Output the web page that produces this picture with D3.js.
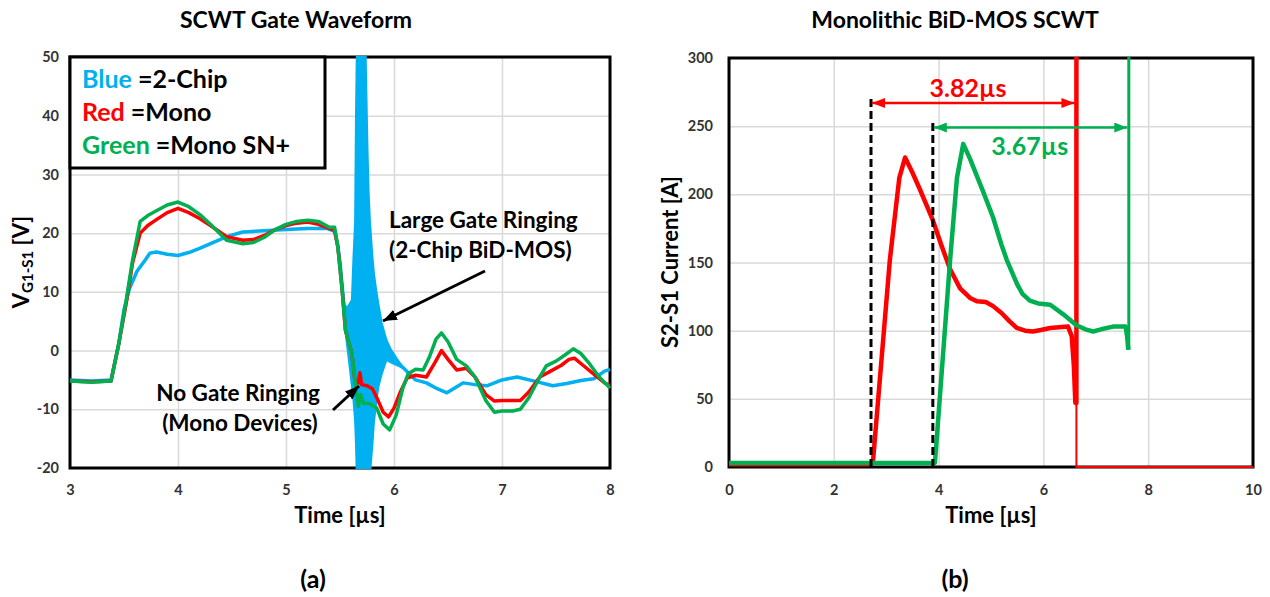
<!DOCTYPE html>
<html>
<head>
<meta charset="utf-8">
<script src="https://cdn.jsdelivr.net/npm/d3@7"></script>
<style>
body { margin: 0; background: #fff; }
text { font-family: Lato, "Open Sans", sans-serif; font-weight: bold; }
</style>
</head>
<body>
<svg width="1270" height="597"></svg>
<script>
// (a) gate waveform, time [us] / V_G1-S1 [V]
var gateTicksX = [3, 4, 5, 6, 7, 8];
var gateTicksY = [-20, -10, 0, 10, 20, 30, 40, 50];

var blueT = [3.0, 3.2, 3.38, 3.45, 3.5, 3.55, 3.62, 3.7, 3.74, 3.8, 3.9, 4.0, 4.1, 4.2, 4.35, 4.45, 4.6, 4.8, 5.0, 5.2, 5.38, 5.45, 5.48, 5.5, 5.55,
             6.09, 6.2, 6.3, 6.4, 6.49, 6.57, 6.64, 6.75, 6.86, 7.0, 7.14, 7.3, 7.47, 7.6, 7.73, 7.85, 7.95, 8.0];
var blueV = [-5, -5.2, -5, 1, 7, 10.5, 13.5, 15.5, 16.6, 16.8, 16.4, 16.2, 16.7, 17.4, 18.6, 19.4, 20.2, 20.4, 20.6, 20.8, 20.8, 20.3, 17.7, 15, 5,
             -3, -5, -5.5, -6.5, -7.2, -6.3, -5.5, -5.8, -6, -5, -4.5, -5.2, -6, -5.6, -5.1, -4.8, -3.5, -3.2];

// ringing band of the 2-chip trace (upper / lower edge)
var ringT  = [5.50, 5.53, 5.546, 5.575, 5.61, 5.625, 5.64, 5.648, 5.655, 5.67, 5.73, 5.745, 5.755, 5.765, 5.778, 5.80, 5.815, 5.835, 5.855, 5.886, 5.93, 5.97, 6.03, 6.09];
var ringHi = [15.5, 9, 7.5, 7.5, 8.6, 16, 22, 40, 50, 58, 58, 43, 34, 27, 21.7, 16, 13, 10.3, 8, 4.7, 1.8, 0.2, -1.5, -3];
var ringLo = [14.5, 7, 4, -0.5, -6, -8.5, -12, -16, -21, -21, -21, -21, -21, -21, -21, -16, -12, -9, -6.2, -4, -1.6, -2, -2.5, -3];

var redT = [3.0, 3.2, 3.38, 3.45, 3.52, 3.58, 3.65, 3.72, 3.8, 3.9, 4.0, 4.1, 4.2, 4.3, 4.45, 4.6, 4.7, 4.8, 4.9, 5.0, 5.1, 5.2, 5.3, 5.4, 5.45,
            5.48, 5.52, 5.55, 5.61, 5.64, 5.67, 5.685, 5.7, 5.75, 5.8, 5.84, 5.9, 5.95, 6.0, 6.06, 6.12, 6.2, 6.3, 6.38, 6.44, 6.5, 6.58, 6.67,
            6.75, 6.85, 6.93, 7.0, 7.1, 7.17, 7.25, 7.35, 7.45, 7.55, 7.62, 7.67, 7.75, 7.85, 7.95, 8.0];
var redV = [-5.2, -5.3, -5.2, 1, 8, 15, 20, 21.3, 22.3, 23.5, 24.2, 23.5, 22.5, 21.3, 19.4, 18.8, 18.9, 19.6, 20.6, 21.3, 21.7, 21.9, 21.5, 20.8, 20.5,
            17.7, 10.3, 3.5, -0.5, -5.5, -5.5, -3.8, -5.8, -6, -6.5, -8, -10.5, -11.3, -9.8, -7, -4.7, -4.2, -4.5, -2, 0, -1.5, -3.3, -3,
            -4.5, -7.5, -8.6, -8.5, -8.5, -8.5, -7, -4.5, -3.5, -2.5, -1.5, -1.3, -2.5, -4, -5.5, -6];

var greenT = [3.0, 3.2, 3.38, 3.45, 3.52, 3.58, 3.65, 3.72, 3.8, 3.9, 4.0, 4.1, 4.2, 4.3, 4.45, 4.6, 4.7, 4.8, 4.9, 5.0, 5.1, 5.2, 5.3, 5.4, 5.45,
              5.48, 5.52, 5.55, 5.61, 5.64, 5.67, 5.69, 5.72, 5.77, 5.84, 5.9, 5.96, 6.02, 6.08, 6.13, 6.2, 6.27, 6.33, 6.39, 6.44, 6.5, 6.58, 6.67,
              6.75, 6.85, 6.93, 7.0, 7.1, 7.17, 7.25, 7.35, 7.41, 7.5, 7.58, 7.66, 7.73, 7.8, 7.9, 8.0];
var greenV = [-5.2, -5.4, -5.2, 1, 8.5, 15.5, 22, 23, 23.8, 24.8, 25.3, 24.5, 23.2, 21.5, 18.8, 18.2, 18.4, 19.3, 20.6, 21.5, 22, 22.2, 22, 21, 21,
              17.7, 10.3, 3.5, -0.5, -5.5, -9.5, -7.5, -9, -9, -9.8, -12.5, -13.5, -11, -6.5, -4, -3.2, -3.3, -1, 2, 3, 1.5, -1.5, -2.6,
              -4.5, -8.5, -10.5, -10.3, -10.3, -10, -8, -4.5, -2.6, -1.8, -0.8, 0.3, -0.5, -2, -4.5, -6.4];

// (b) monolithic SCWT, time [us] / S2-S1 current [A]
var scwtTicksX = [0, 2, 4, 6, 8, 10];
var scwtTicksY = [0, 50, 100, 150, 200, 250, 300];

var monoT = [0, 1, 2, 2.72, 2.75, 3.07, 3.25, 3.36, 3.5, 3.65, 3.89, 4.05, 4.22, 4.41, 4.6, 4.73, 4.9, 5.04, 5.2, 5.35, 5.49, 5.65, 5.8, 5.95,
             6.13, 6.3, 6.47, 6.54, 6.58, 6.61, 6.63, 6.63];
var monoI = [2, 2, 2, 2, 5, 152, 212, 227, 216, 203, 181, 163, 145, 131, 124, 121.5, 121, 118, 113, 107, 102, 100, 99.4, 100.5,
             102, 102.5, 103, 96, 75, 47, 47, 310];
var monoTailT = [6.63, 6.63, 10];
var monoTailI = [47, 0, 0];

var snT = [0, 3.0, 3.9, 3.93, 4.22, 4.35, 4.47, 4.6, 4.85, 5.04, 5.2, 5.3, 5.4, 5.5, 5.6, 5.74, 5.9, 6.13, 6.38, 6.63, 6.8, 6.95, 7.1, 7.33, 7.57, 7.6, 7.62];
var snI = [3, 3, 3, 3, 152, 212, 237, 226, 202, 183, 163, 152, 143, 134, 127, 122, 120, 119, 112, 104, 101, 99.4, 101, 103, 103, 95, 86];
var snTailT = [7.63, 7.63];
var snTailI = [86, 310];

// short-circuit withstand time markers
var markStart = [2.71, 3.89];
var markEnd = [6.63, 7.64];
var markTop = [272, 253];
var markArrowY = [267, 249];
var markLabel = ["3.82\u00b5s", "3.67\u00b5s"];
var markLabelPos = [[4.56, 271.5], [5.74, 229]];

var colBlue = "#00B0F0", colRed = "#FF0000", colGreen = "#00B050";

var svg = d3.select("svg");
var defs = svg.append("defs");

function head(id, color, len, wid) {
  defs.append("marker")
    .attr("id", id)
    .attr("markerUnits", "userSpaceOnUse")
    .attr("viewBox", "0 0 " + len + " " + wid)
    .attr("refX", len).attr("refY", wid / 2)
    .attr("markerWidth", len).attr("markerHeight", wid)
    .attr("orient", "auto-start-reverse")
    .append("path")
    .attr("d", "M0,0L" + len + "," + (wid / 2) + "L0," + wid + "Z")
    .attr("fill", color);
}
head("hBlack", "#000", 14, 11);
head("hRed", colRed, 13, 10);
head("hGreen", colGreen, 13, 10);

function zip(a, b) { return a.map(function(d, i) { return [d, b[i]]; }); }

function panel(x, y, ticksX, ticksY, padX, padY, id) {
  var g = svg.append("g");
  var w = x.range()[1] - x.range()[0];
  var h = y.range()[0] - y.range()[1];
  g.append("g")
    .attr("transform", "translate(" + x.range()[0] + ",0)")
    .call(d3.axisLeft(y).tickValues(ticksY).tickSize(-w).tickFormat(""))
    .call(function(s) { s.select(".domain").remove(); s.selectAll("line").attr("stroke", "#d9d9d9").attr("stroke-width", 1.5); });
  g.append("g")
    .attr("transform", "translate(0," + y.range()[0] + ")")
    .call(d3.axisBottom(x).tickValues(ticksX).tickSize(-h).tickFormat(""))
    .call(function(s) { s.select(".domain").remove(); s.selectAll("line").attr("stroke", "#d9d9d9").attr("stroke-width", 1.5); });
  g.append("rect")
    .attr("x", x.range()[0]).attr("y", y.range()[1])
    .attr("width", w).attr("height", h)
    .attr("fill", "none").attr("stroke", "#000").attr("stroke-width", 3);
  var fmt = function(d) { return String(d); };
  var ay = g.append("g")
    .attr("transform", "translate(" + x.range()[0] + ",0)")
    .call(d3.axisLeft(y).tickValues(ticksY).tickSize(0).tickPadding(padY).tickFormat(fmt));
  var ax = g.append("g")
    .attr("transform", "translate(0," + y.range()[0] + ")")
    .call(d3.axisBottom(x).tickValues(ticksX).tickSize(0).tickPadding(padX).tickFormat(fmt));
  [ax, ay].forEach(function(a) {
    a.select(".domain").remove();
    a.selectAll("text").attr("font-family", "Lato, sans-serif").attr("font-weight", "bold")
      .attr("font-size", 14.5).attr("fill", "#333");
  });
  defs.append("clipPath").attr("id", id).append("rect")
    .attr("x", x.range()[0]).attr("y", y.range()[1] - 1)
    .attr("width", w + 1).attr("height", h + 2);
  return svg.append("g").attr("clip-path", "url(#" + id + ")");
}

// ---------- panel (a)
var xa = d3.scaleLinear().domain([3, 8]).range([70, 610]);
var ya = d3.scaleLinear().domain([-20, 50]).range([468, 57]);
var pa = panel(xa, ya, gateTicksX, gateTicksY, 17, 11, "clipA");
var lineA = d3.line().x(function(d) { return xa(d[0]); }).y(function(d) { return ya(d[1]); });

pa.append("path").attr("d", lineA(zip(blueT, blueV)))
  .attr("fill", "none").attr("stroke", colBlue).attr("stroke-width", 3.5).attr("stroke-linejoin", "round");
pa.append("path")
  .attr("d", d3.area()
    .x(function(d) { return xa(d[0]); })
    .y0(function(d) { return ya(d[2]); })
    .y1(function(d) { return ya(d[1]); })(ringT.map(function(t, i) { return [t, ringHi[i], ringLo[i]]; })))
  .attr("fill", colBlue).attr("stroke", colBlue).attr("stroke-width", 2);
pa.append("path").attr("d", lineA(zip(redT, redV)))
  .attr("fill", "none").attr("stroke", colRed).attr("stroke-width", 3.5).attr("stroke-linejoin", "round");
pa.append("path").attr("d", lineA(zip(greenT, greenV)))
  .attr("fill", "none").attr("stroke", colGreen).attr("stroke-width", 3.5).attr("stroke-linejoin", "round");

// legend box
svg.append("rect").attr("x", 70).attr("y", 57).attr("width", 255).attr("height", 111)
  .attr("fill", "#fff").attr("stroke", "#000").attr("stroke-width", 3);
var legRows = [["Blue", " =2-Chip", colBlue], ["Red", " =Mono", colRed], ["Green", " =Mono SN+", colGreen]];
legRows.forEach(function(r, i) {
  var t = svg.append("text").attr("x", 82).attr("y", 88 + i * 33).attr("font-size", 25);
  t.append("tspan").attr("fill", r[2]).text(r[0]);
  t.append("tspan").attr("fill", "#000").text(r[1]);
});

// annotations (a)
svg.append("text").attr("x", 389).attr("y", 228).attr("font-size", 22.5).text("Large Gate Ringing");
svg.append("text").attr("x", 389).attr("y", 258).attr("font-size", 22.5).text("(2-Chip BiD-MOS)");
svg.append("line").attr("x1", 485).attr("y1", 271).attr("x2", 383).attr("y2", 321)
  .attr("stroke", "#000").attr("stroke-width", 3).attr("marker-end", "url(#hBlack)");
svg.append("text").attr("x", 238).attr("y", 401).attr("text-anchor", "middle").attr("font-size", 22.5).text("No Gate Ringing");
svg.append("text").attr("x", 240).attr("y", 431).attr("text-anchor", "middle").attr("font-size", 22.5).text("(Mono Devices)");
svg.append("line").attr("x1", 333).attr("y1", 410).attr("x2", 359).attr("y2", 386)
  .attr("stroke", "#000").attr("stroke-width", 3).attr("marker-end", "url(#hBlack)");

svg.append("text").attr("x", 296).attr("y", 28).attr("text-anchor", "middle").attr("font-size", 23).text("SCWT Gate Waveform");
svg.append("text").attr("x", 340).attr("y", 523).attr("text-anchor", "middle").attr("font-size", 22).text("Time [\u00b5s]");
svg.append("text").attr("x", 313).attr("y", 588).attr("text-anchor", "middle").attr("font-size", 25).text("(a)");
var yl = svg.append("text").attr("transform", "translate(29,262) rotate(-90)")
  .attr("text-anchor", "middle").attr("font-size", 22);
yl.append("tspan").text("V");
yl.append("tspan").attr("font-size", 15).attr("dy", 4).text("G1-S1");
yl.append("tspan").attr("dy", -4).text(" [V]");

// ---------- panel (b)
var xb = d3.scaleLinear().domain([0, 10]).range([729, 1253]);
var yb = d3.scaleLinear().domain([0, 300]).range([467, 58]);
var pb = panel(xb, yb, scwtTicksX, scwtTicksY, 18, 16, "clipB");
var lineB = d3.line().x(function(d) { return xb(d[0]); }).y(function(d) { return yb(d[1]); });

pb.append("path").attr("d", lineB(zip(monoT, monoI)))
  .attr("fill", "none").attr("stroke", colRed).attr("stroke-width", 4.5).attr("stroke-linejoin", "round");
pb.append("path").attr("d", lineB(zip(monoTailT, monoTailI)))
  .attr("fill", "none").attr("stroke", colRed).attr("stroke-width", 2);
pb.append("path").attr("d", lineB(zip(snT, snI)))
  .attr("fill", "none").attr("stroke", colGreen).attr("stroke-width", 4.5).attr("stroke-linejoin", "round");
pb.append("path").attr("d", lineB(zip(snTailT, snTailI)))
  .attr("fill", "none").attr("stroke", colGreen).attr("stroke-width", 3);

var markCol = [colRed, colGreen], markHead = ["hRed", "hGreen"];
markStart.forEach(function(s, i) {
  svg.append("line").attr("x1", xb(s)).attr("x2", xb(s)).attr("y1", yb(0)).attr("y2", yb(markTop[i]))
    .attr("stroke", "#000").attr("stroke-width", 3).attr("stroke-dasharray", "8,4");
  svg.append("line").attr("x1", xb(s) + 1).attr("x2", xb(markEnd[i]) - 2)
    .attr("y1", yb(markArrowY[i])).attr("y2", yb(markArrowY[i]))
    .attr("stroke", markCol[i]).attr("stroke-width", 2.5)
    .attr("marker-start", "url(#" + markHead[i] + ")").attr("marker-end", "url(#" + markHead[i] + ")");
  svg.append("text").attr("x", xb(markLabelPos[i][0])).attr("y", yb(markLabelPos[i][1]))
    .attr("text-anchor", "middle").attr("font-size", 25).attr("fill", markCol[i]).text(markLabel[i]);
});

svg.append("text").attr("x", 955).attr("y", 28).attr("text-anchor", "middle").attr("font-size", 23).text("Monolithic BiD-MOS SCWT");
svg.append("text").attr("x", 991).attr("y", 523).attr("text-anchor", "middle").attr("font-size", 22).text("Time [\u00b5s]");
svg.append("text").attr("x", 955).attr("y", 588).attr("text-anchor", "middle").attr("font-size", 25).text("(b)");
svg.append("text").attr("transform", "translate(678,262) rotate(-90)")
  .attr("text-anchor", "middle").attr("font-size", 22).text("S2-S1 Current [A]");
</script>
</body>
</html>
